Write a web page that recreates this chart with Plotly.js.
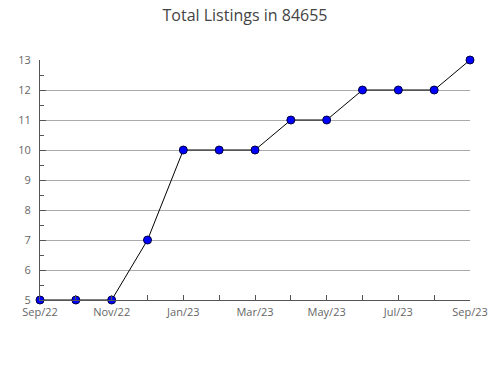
<!DOCTYPE html>
<html>
<head>
<meta charset="utf-8">
<script src="https://cdn.plot.ly/plotly-3.0.1.min.js"></script>
<style>html,body{margin:0;padding:0;background:#fff;}#chart{width:490px;height:380px;}</style>
</head>
<body>
<div id="chart"></div>
<script>
const monthLabels = ["Sep/22","Oct/22","Nov/22","Dec/22","Jan/23","Feb/23","Mar/23","Apr/23","May/23","Jun/23","Jul/23","Aug/23","Sep/23"];
const listings = [5,5,5,7,10,10,10,11,11,12,12,12,13];
const titleText = "Total Listings in 84655";

const xIdx = monthLabels.map((_, i) => i);
const shownText = monthLabels.map((t, i) => (i % 2 === 0 ? t : ""));

const trace = {
  x: xIdx, y: listings, type: "scatter", mode: "lines+markers",
  line: {color: "#000000", width: 1},
  marker: {symbol: "circle", size: 8, color: "#0000ff", line: {color: "#000040", width: 1}},
  cliponaxis: false, text: monthLabels, hoverinfo: "text+y"
};
const layout = {
  width: 490, height: 380,
  margin: {l: 40, r: 20, t: 60, b: 80},
  paper_bgcolor: "#ffffff", plot_bgcolor: "#ffffff",
  showlegend: false,
  title: {text: titleText, font: {family: "Open Sans", size: 16, color: "#444444"}, x: 0.5, y: 0.96, yanchor: "middle"},
  xaxis: {
    type: "linear", range: [0, monthLabels.length - 1],
    tickmode: "array", tickvals: xIdx, ticktext: shownText,
    ticks: "inside", ticklen: 5, tickcolor: "#555", tickwidth: 1,
    ticklabelstandoff: 2,
    showline: true, linecolor: "#555", linewidth: 1,
    showgrid: false, zeroline: false,
    tickfont: {family: "Open Sans", size: 11, color: "#666"}
  },
  yaxis: {
    range: [5, 13], dtick: 1, tick0: 5,
    ticks: "inside", ticklen: 6, tickcolor: "#555", tickwidth: 1,
    ticklabelstandoff: 6,
    minor: {dtick: 0.5, ticks: "inside", ticklen: 4, tickcolor: "#555", showgrid: false},
    showline: true, linecolor: "#555", linewidth: 1,
    showgrid: true, gridcolor: "#aaaaaa", gridwidth: 1, zeroline: false,
    tickfont: {family: "Open Sans", size: 11, color: "#666"}
  }
};
Plotly.newPlot("chart", [trace], layout, {displayModeBar: false, staticPlot: true});
</script>
</body>
</html>
